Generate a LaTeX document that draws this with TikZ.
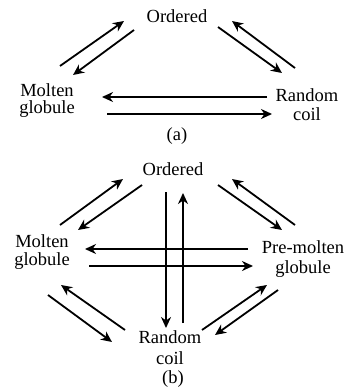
\documentclass[tikz,border=0pt]{standalone}
\usepackage{fontspec}
\setmainfont{Liberation Serif}
\usetikzlibrary{arrows.meta}
\tikzset{
  lbl/.style={anchor=base, inner sep=0pt, align=center,
    font=\fontsize{18.5}{#1}\selectfont},
  lbl/.default=18,
  arr/.style={line width=1.8pt, -{Stealth[length=11pt, width=10pt, inset=3.5pt]}}
}
\begin{document}
\begin{tikzpicture}[x=1pt, y=-1pt]
  \useasboundingbox[fill=white] (0,0) rectangle (346,388);

  % (a) three-state scheme (multi-line labels sit on their last baseline)
  \node[lbl] (ordA) at (177,23) {Ordered};
  \node[lbl=17] (mgA) at (47,113) {Molten\\globule};
  \node[lbl=19] (rcA) at (307,120) {Random\\coil};
  \node[lbl] (capA) at (177,140) {(a)};

  \draw[arr] (60,66) -- (124,21);
  \draw[arr] (134,30) -- (73,75);
  \draw[arr] (218,27) -- (282,73);
  \draw[arr] (295,68) -- (232,21);
  \draw[arr] (267,97) -- (102,97);
  \draw[arr] (107,114) -- (272,114);

  % (b) four-state scheme
  \node[lbl] (ordB) at (173,175) {Ordered};
  \node[lbl=18] (mgB) at (42,265) {Molten\\globule};
  \node[lbl=20] (pmgB) at (303,273) {Pre-molten\\globule};
  \node[lbl=21] (rcB) at (170,364) {Random\\coil};
  \node[lbl] (capB) at (173,383.5) {(b)};

  \draw[arr] (166,192) -- (166,328);
  \draw[arr] (183,323) -- (183,193);
  \draw[arr] (248,249) -- (85,249);
  \draw[arr] (89,266) -- (253,266);
  \draw[arr] (60,225) -- (123,179);
  \draw[arr] (142,185) -- (78,230);
  \draw[arr] (218,185) -- (282,230);
  \draw[arr] (295,225) -- (232,179);
  \draw[arr] (125,330) -- (61,285);
  \draw[arr] (48,295) -- (112,342);
  \draw[arr] (202,330) -- (267,285);
  \draw[arr] (278,290) -- (215,335);
\end{tikzpicture}
\end{document}
